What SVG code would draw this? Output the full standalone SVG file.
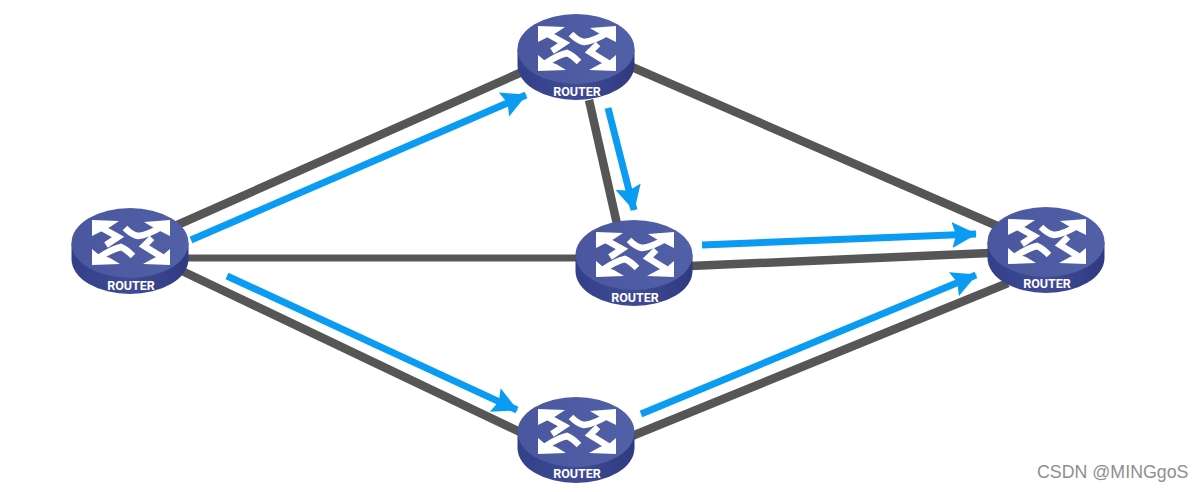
<svg xmlns="http://www.w3.org/2000/svg" width="1204" height="492" viewBox="0 0 1204 492">
<style>
.link{stroke:#565656;stroke-width:8.500;fill:none}
.flow{stroke:#0a9cf2;stroke-width:7;fill:none;marker-end:url(#ah)}
.lbl{font:bold 12.500px "Roboto","Liberation Sans",sans-serif;fill:#fff;text-anchor:middle}
.wm{font:17.800px "Liberation Sans",sans-serif;fill:#8f8f8f}
.tail{fill:none;stroke:#fff;stroke-width:6.500}
</style>
<defs>
<marker id="ah" markerUnits="userSpaceOnUse" markerWidth="28" markerHeight="28" refX="24" refY="13" orient="auto"><path d="M0,0L25,13L0,26L4,13Z" fill="#0a9cf2"/></marker>
<linearGradient id="side" x1="0" x2="1" y1="0" y2="0"><stop offset="0" stop-color="#343f8a"/><stop offset=".5" stop-color="#3f4b95"/><stop offset="1" stop-color="#2f3a80"/></linearGradient>
<linearGradient id="top" x1="0" x2="1" y1="0" y2="0"><stop offset="0" stop-color="#4a579f"/><stop offset="1" stop-color="#5260a8"/></linearGradient>
<g id="router">
<path d="M-58.500,0V16A58.500,35 0 0 0 58.500,16V0Z" fill="url(#side)"/>
<ellipse rx="58.500" ry="35" fill="url(#top)"/>
<g transform="translate(0,1)">
<g fill="#fff">
<path d="M-38,-24L-11,-23L-20,-17L-32,-11L-38,-8Z"/>
<path d="M40,-24L14,-22L24,-16L34,-11L40,-8Z"/>
<path d="M-38,21L-10,20L-20,14L-32,10L-38,5Z"/>
<path d="M40,21L13,20L24,14L34,10L40,5Z"/>
</g>
<path class="tail" d="M-30,-17L-12,-7L-24,1"/>
<path class="tail" d="M31,-17Q18,-9 8,-8Q2,-9 -5,-16"/>
<path class="tail" d="M-30,13Q-18,5 -9,3Q-4,5 3,12"/>
<path class="tail" d="M32,13L14,2L22,-6"/>
</g>
</g>
</defs>
<rect width="1204" height="492" fill="#fff"/>
<g id="connectors">
<path class="link" d="M175,226L522,72"/>
<path class="link" d="M632,67L1002,228"/>
<path class="link" d="M589,100L617,224"/>
<path class="link" d="M186,258H578" style="stroke-width:7"/>
<path class="link" d="M690,266L990,253"/>
<path class="link" d="M180,270L522,433"/>
<path class="link" d="M632,436L1008,283"/>
<path class="flow" d="M191,240L526,95"/>
<path class="flow" d="M608,108L634,210"/>
<path class="flow" d="M702,245L976,234"/>
<path class="flow" d="M227,276L517,410"/>
<path class="flow" d="M641,414L976,275"/>
</g>
<g id="router-top"><use href="#router" x="576" y="49"/><text class="lbl" x="577" y="96">ROUTER</text></g>
<g id="router-left"><use href="#router" x="130" y="243"/><text class="lbl" x="131" y="290">ROUTER</text></g>
<g id="router-center"><use href="#router" x="634" y="255"/><text class="lbl" x="635" y="302">ROUTER</text></g>
<g id="router-right"><use href="#router" x="1046" y="242"/><text class="lbl" x="1047" y="288">ROUTER</text></g>
<g id="router-bottom"><use href="#router" x="576" y="432"/><text class="lbl" x="577" y="478">ROUTER</text></g>
<text class="wm" x="1037" y="478">CSDN @MINGgoS</text>
</svg>
